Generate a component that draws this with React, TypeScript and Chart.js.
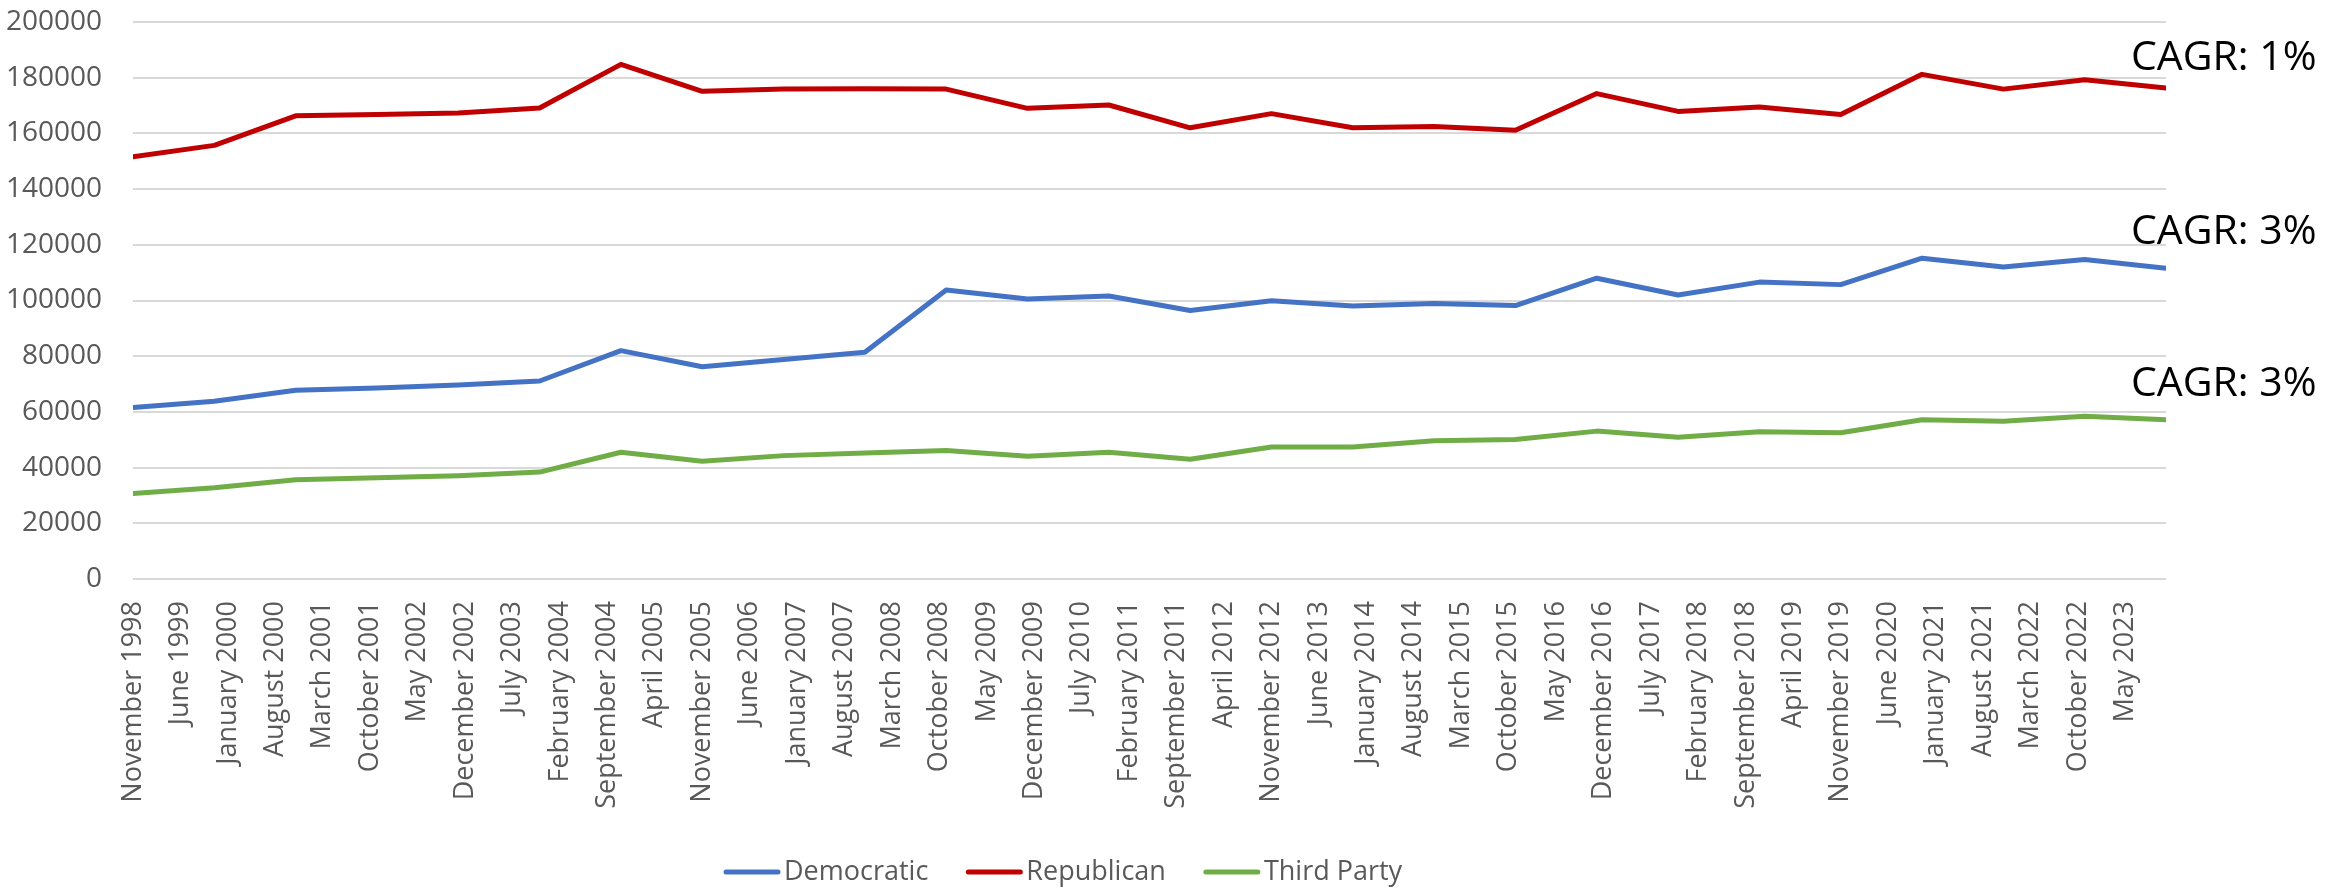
import React, { useEffect, useRef } from 'react';
import { Chart, registerables } from 'chart.js';

Chart.register(...registerables);

// Data points (one per year, each November)
const pointDates = [
  '1998-11', '1999-11', '2000-11', '2001-11', '2002-11', '2003-11', '2004-11',
  '2005-11', '2006-11', '2007-11', '2008-11', '2009-11', '2010-11', '2011-11',
  '2012-11', '2013-11', '2014-11', '2015-11', '2016-11', '2017-11', '2018-11',
  '2019-11', '2020-11', '2021-11', '2022-11', '2023-11',
];

const democratic = [
  61600, 63800, 67800, 68600, 69700, 71100, 82000, 76200, 78800, 81400, 103800,
  100500, 101600, 96400, 99900, 98000, 98900, 98200, 108000, 102000, 106600,
  105700, 115200, 112000, 114700, 111600,
];

const republican = [
  151600, 155700, 166300, 166800, 167300, 169100, 184800, 175100, 175900, 176000,
  175900, 169000, 170200, 162000, 167100, 162000, 162500, 161100, 174300, 167900,
  169500, 166800, 181200, 175900, 179300, 176300,
];

const thirdParty = [
  30700, 32800, 35600, 36400, 37100, 38400, 45500, 42300, 44300, 45200, 46100,
  44100, 45500, 43000, 47400, 47400, 49600, 50100, 53100, 50900, 52900, 52500,
  57200, 56600, 58400, 57200,
];

const seriesLabels = ['Democratic', 'Republican', 'Third Party'];
const seriesColors = ['#4472C4', '#C00000', '#70AD47'];
const cagrLabels = ['CAGR: 3%', 'CAGR: 1%', 'CAGR: 3%'];

// X axis tick labels (every 7 months from November 1998)
const tickLabels = [
  'November 1998', 'June 1999', 'January 2000', 'August 2000', 'March 2001',
  'October 2001', 'May 2002', 'December 2002', 'July 2003', 'February 2004',
  'September 2004', 'April 2005', 'November 2005', 'June 2006', 'January 2007',
  'August 2007', 'March 2008', 'October 2008', 'May 2009', 'December 2009',
  'July 2010', 'February 2011', 'September 2011', 'April 2012', 'November 2012',
  'June 2013', 'January 2014', 'August 2014', 'March 2015', 'October 2015',
  'May 2016', 'December 2016', 'July 2017', 'February 2018', 'September 2018',
  'April 2019', 'November 2019', 'June 2020', 'January 2021', 'August 2021',
  'March 2022', 'October 2022', 'May 2023',
];

const yTicks = [0, 20000, 40000, 60000, 80000, 100000, 120000, 140000, 160000, 180000, 200000];

const FONT = '"Open Sans", "Noto Sans", sans-serif';
const TICK_COLOR = '#595959';
const TICK_STEP_MONTHS = 7;

function monthOffset(d: string): number {
  const [y, m] = d.split('-').map(Number);
  return (y - 1998) * 12 + (m - 11);
}

const xMax = monthOffset(pointDates[pointDates.length - 1]);

const toPoints = (vals: number[]) => vals.map((v, i) => ({ x: monthOffset(pointDates[i]), y: v }));

// CAGR annotations
const cagrPlugin = {
  id: 'cagrLabels',
  afterDraw(chart: any) {
    const ctx = chart.ctx;
    ctx.save();
    ctx.font = `41px ${FONT}`;
    ctx.fillStyle = '#000000';
    ctx.textAlign = 'left';
    ctx.textBaseline = 'alphabetic';
    const baselines = [244, 70, 396];
    cagrLabels.forEach((t, i) => {
      ctx.fillText(t, 2131, baselines[i]);
    });
    ctx.restore();
  },
};

// Legend drawn from the datasets
const legendPlugin = {
  id: 'customLegend',
  afterDraw(chart: any) {
    const ctx = chart.ctx;
    ctx.save();
    ctx.font = `27px ${FONT}`;
    ctx.textAlign = 'left';
    ctx.textBaseline = 'middle';
    let x = 724;
    const y = 872;
    chart.data.datasets.forEach((ds: any) => {
      ctx.strokeStyle = ds.borderColor;
      ctx.lineWidth = 5;
      ctx.lineCap = 'round';
      ctx.beginPath();
      ctx.moveTo(x + 2, y);
      ctx.lineTo(x + 54, y);
      ctx.stroke();
      x += 60;
      ctx.fillStyle = TICK_COLOR;
      ctx.fillText(ds.label, x, y);
      x += ctx.measureText(ds.label).width + 38;
    });
    ctx.restore();
  },
};

export default function App() {
  const canvasRef = useRef<HTMLCanvasElement | null>(null);

  useEffect(() => {
    const canvas = canvasRef.current;
    if (!canvas) return;
    const seriesValues = [democratic, republican, thirdParty];
    const chart = new Chart(canvas, {
      type: 'line',
      data: {
        datasets: seriesValues.map((vals, i) => ({
          label: seriesLabels[i],
          data: toPoints(vals),
          borderColor: seriesColors[i],
          backgroundColor: seriesColors[i],
          borderWidth: 5,
          pointRadius: 0,
          pointHoverRadius: 0,
          tension: 0,
          fill: false,
          borderCapStyle: 'round',
          borderJoinStyle: 'round',
        })),
      },
      options: {
        responsive: false,
        animation: false,
        devicePixelRatio: 1,
        layout: { padding: { top: 22, right: 164, bottom: 0, left: 0 } },
        plugins: {
          legend: { display: false },
          tooltip: { enabled: false },
        },
        scales: {
          x: {
            type: 'linear',
            min: 0,
            max: xMax,
            afterBuildTicks: (scale: any) => {
              scale.ticks = tickLabels.map((_, i) => ({ value: i * TICK_STEP_MONTHS }));
            },
            afterFit: (scale: any) => {
              scale.height = 314;
              scale.paddingLeft = 0;
              scale.paddingRight = 0;
            },
            grid: { display: false, drawTicks: false },
            border: { display: false },
            ticks: {
              autoSkip: false,
              minRotation: 90,
              maxRotation: 90,
              padding: 22,
              color: TICK_COLOR,
              font: { family: FONT, size: 27 },
              callback: (v: any) => tickLabels[Math.round(Number(v) / TICK_STEP_MONTHS)] ?? '',
            },
          },
          y: {
            type: 'linear',
            min: 0,
            max: 200000,
            afterBuildTicks: (scale: any) => {
              scale.ticks = yTicks.map((v) => ({ value: v }));
            },
            afterFit: (scale: any) => {
              scale.width = 133;
              scale.paddingTop = 0;
              scale.paddingBottom = 0;
            },
            grid: { color: '#D9D9D9', lineWidth: 2, drawTicks: false },
            border: { display: false },
            ticks: {
              padding: 31,
              color: TICK_COLOR,
              font: { family: FONT, size: 28 },
              callback: (v: any) => String(v),
            },
          },
        },
      },
      plugins: [cagrPlugin, legendPlugin],
    } as any);
    return () => chart.destroy();
  }, []);

  return (
    <div style={{ position: 'absolute', left: 0, top: 0, width: 2330, height: 893, background: '#ffffff' }}>
      <canvas
        ref={canvasRef}
        width={2330}
        height={893}
        style={{ display: 'block', width: '2330px', height: '893px' }}
      />
    </div>
  );
}
